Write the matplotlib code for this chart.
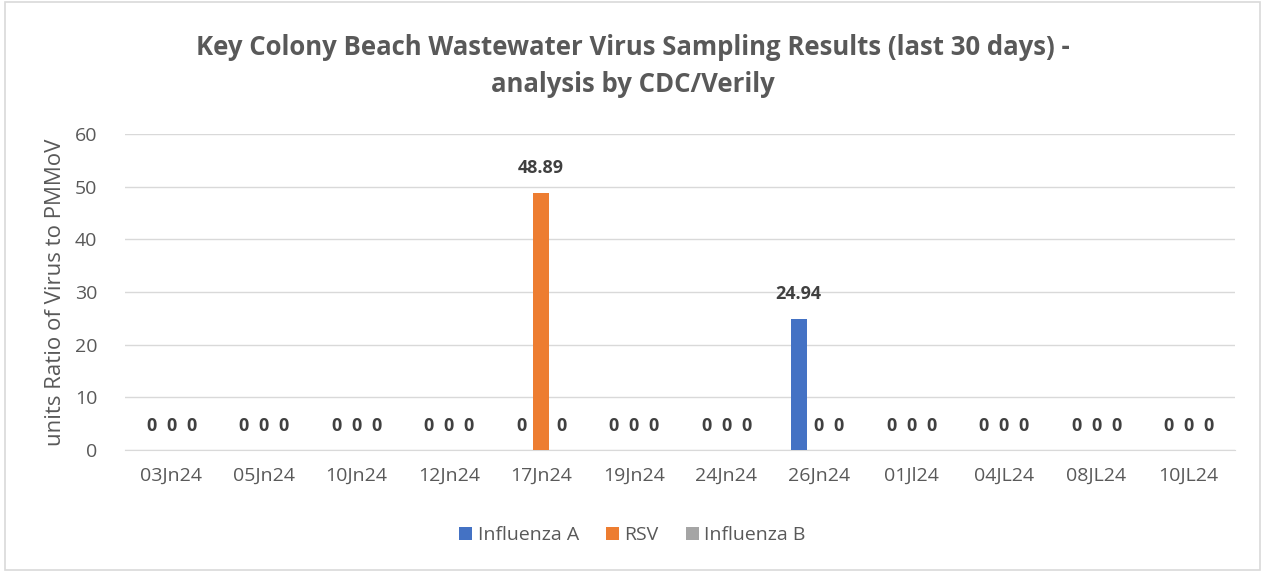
import matplotlib
matplotlib.use("Agg")
import matplotlib.pyplot as plt
import numpy as np
from matplotlib.patches import Rectangle

categories = ["03Jn24", "05Jn24", "10Jn24", "12Jn24", "17Jn24", "19Jn24",
              "24Jn24", "26Jn24", "01Jl24", "04JL24", "08JL24", "10JL24"]
influenza_a = [0, 0, 0, 0, 0, 0, 0, 24.94, 0, 0, 0, 0]
rsv = [0, 0, 0, 0, 48.89, 0, 0, 0, 0, 0, 0, 0]
influenza_b = [0, 0, 0, 0, 0, 0, 0, 0, 0, 0, 0, 0]
series_names = ["Influenza A", "RSV", "Influenza B"]
colors = ["#4472C4", "#ED7D31", "#A5A5A5"]

plt.rcParams['font.family'] = ['Open Sans', 'DejaVu Sans']

fig = plt.figure(figsize=(12.65, 5.72), dpi=100)
fig.patches.append(Rectangle((0.004, 0.004), 0.992, 0.992, transform=fig.transFigure,
                             fill=False, edgecolor="#d9d9d9", linewidth=1.2))
ax = fig.add_axes([125/1265, 122/572, 1110/1265, 316/572])

x = np.arange(len(categories))
w = 0.173
off = 0.216
for i, (vals, name, c) in enumerate(zip([influenza_a, rsv, influenza_b], series_names, colors)):
    xs = x + (i - 1) * off
    ax.bar(xs, vals, width=w, color=c, label=name, zorder=3)
    for xi, v in zip(xs, vals):
        ax.text(xi, v + 4.6, f"{v:g}", ha="center", va="center",
                fontsize=13, fontweight="bold", color="#404040", zorder=4)

ax.set_xlim(-0.5, len(categories) - 0.5)
ax.set_ylim(0, 60)
ax.set_yticks(range(0, 61, 10))
ax.set_xticks(x)
ax.set_xticklabels(categories)
ax.grid(axis="y", color="#d9d9d9", linewidth=1, zorder=0)
for s in ["top", "right", "left"]:
    ax.spines[s].set_visible(False)
ax.spines["bottom"].set_color("#d9d9d9")
ax.tick_params(axis="x", length=0, labelsize=14, labelcolor="#595959", pad=12)
ax.tick_params(axis="y", length=0, labelsize=14, labelcolor="#595959", pad=20)
ax.set_ylabel("units Ratio of Virus to PMMoV", fontsize=16, color="#595959", labelpad=6)

fig.text(0.5, 1 - 66/572, "Key Colony Beach Wastewater Virus Sampling Results (last 30 days) -\nanalysis by CDC/Verily",
         ha="center", va="center", fontsize=18.5, fontweight="bold", color="#595959", linespacing=1.45)

fig.legend(loc="center", bbox_to_anchor=(0.5, 1 - 535/572), ncol=3, frameon=False,
           fontsize=14, labelcolor="#595959", handlelength=0.65, handleheight=0.65,
           handletextpad=0.3, columnspacing=1.4)

fig.savefig("out.png", dpi=100)
